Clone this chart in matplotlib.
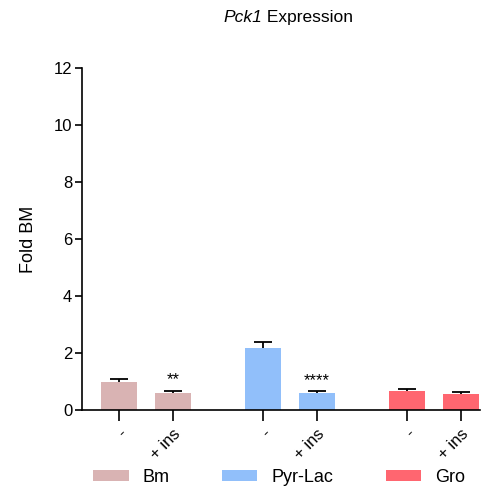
import matplotlib
matplotlib.use("Agg")
from matplotlib import pyplot as plt
from matplotlib.patches import Patch

plt.rcParams['font.family'] = ['Liberation Sans', 'DejaVu Sans']

# Datos
grupos = ["Bm", "Pyr-Lac", "Gro"]
colores = ["#D9B3B3", "#91BFFA", "#FF6670"]
etiquetas = ["-", "+ ins"]
medias = [[1.00, 0.61], [2.19, 0.60], [0.68, 0.55]]
errores = [[0.08, 0.07], [0.21, 0.06], [0.07, 0.08]]
estrellas = [["", "**"], ["", "****"], ["", ""]]

fig = plt.figure(figsize=(4.89, 4.95), dpi=100)
ax = fig.add_axes([0.1677, 0.1717, 0.8139, 0.6909])

ticks, ticklabels = [], []
for i, g in enumerate(grupos):
    base = i * 2.667
    for j in range(2):
        x = base + j
        ax.bar(x, medias[i][j], width=0.667, color=colores[i], zorder=2)
        # solo la barra superior se ve: la inferior queda tapada por la barra
        ax.errorbar(x, medias[i][j], yerr=errores[i][j], fmt="none",
                    ecolor="black", elinewidth=1.3, capsize=6.8, capthick=1.3, zorder=1)
        if estrellas[i][j]:
            ax.text(x, medias[i][j] + errores[i][j] + 0.12, estrellas[i][j],
                    ha="center", va="bottom", fontsize=12)
        ticks.append(x)
        ticklabels.append(etiquetas[j])

ax.set_xlim(-0.685, 6.685)
ax.set_ylim(0, 12)
ax.set_yticks(range(0, 13, 2))
ax.set_xticks(ticks)
ax.set_xticklabels(ticklabels, rotation=45, ha="right", rotation_mode="anchor", fontsize=12)
ax.tick_params(axis="y", labelsize=12, length=5, width=1.2, direction="out", pad=2)
ax.tick_params(axis="x", length=8, width=1.2, direction="out")
for s in ["top", "right"]:
    ax.spines[s].set_visible(False)
for s in ["left", "bottom"]:
    ax.spines[s].set_linewidth(1.2)
ax.set_ylabel("Fold BM", fontsize=13, labelpad=12)

# Titulo: nombre del gen en cursiva
fig.text(0.536, 0.964, "Pck1", ha="right", va="center", fontsize=12.5, style="italic")
fig.text(0.536, 0.964, " Expression", ha="left", va="center", fontsize=12.5)

handles = [Patch(facecolor=c, edgecolor="none", label=g) for g, c in zip(grupos, colores)]
fig.legend(handles=handles, loc="center", bbox_to_anchor=(0.571, 0.036), ncol=3,
           frameon=False, fontsize=13, handlelength=1.95, handleheight=0.55,
           columnspacing=2.9, handletextpad=0.78, borderpad=0, borderaxespad=0)

fig.savefig("out.png", dpi=100)
